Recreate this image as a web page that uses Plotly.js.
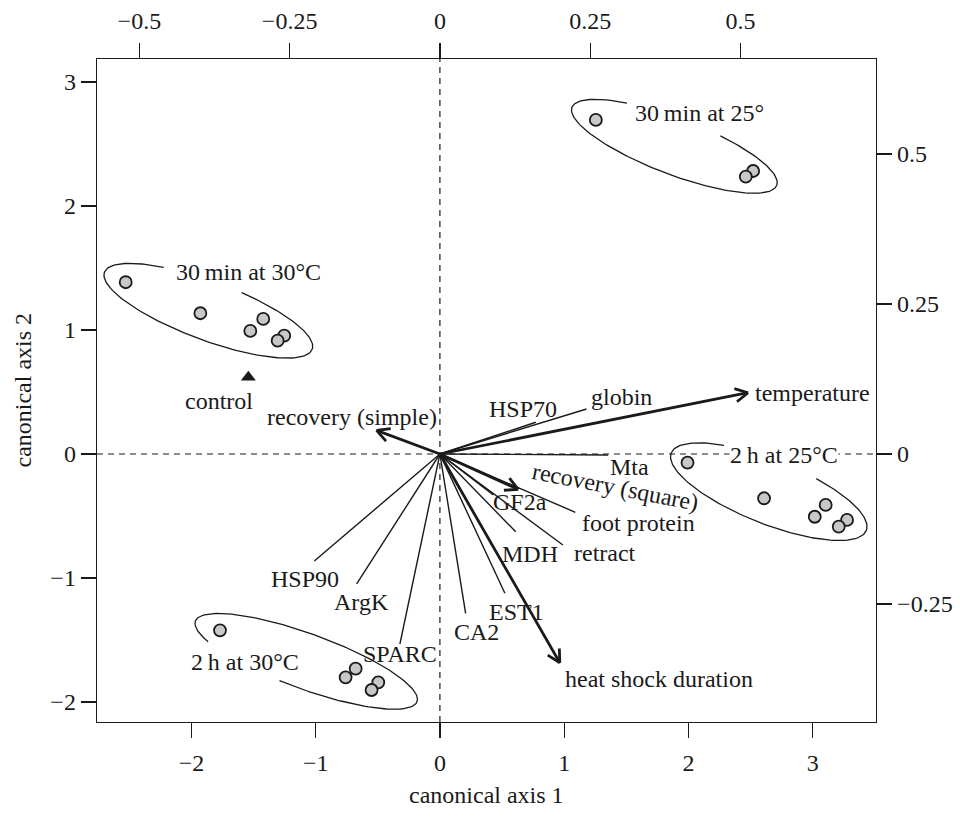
<!DOCTYPE html>
<html>
<head>
<meta charset="utf-8">
<script src="https://cdn.plot.ly/plotly-3.0.1.min.js"></script>
<style>html,body{margin:0;padding:0;background:#fff;}#chart{width:960px;height:827px;}</style>
</head>
<body>
<div id="chart"></div>
<script>
// ---- group scores (canonical axis 1, canonical axis 2) ----
const g30min30C_x = [-2.529, -1.928, -1.422, -1.526, -1.253, -1.306];
const g30min30C_y = [1.385, 1.135, 1.089, 0.992, 0.954, 0.914];
const g30min25_x = [1.255, 2.521, 2.462];
const g30min25_y = [2.694, 2.282, 2.236];
const g2h25C_x = [1.993, 2.609, 3.105, 3.017, 3.277, 3.210];
const g2h25C_y = [-0.070, -0.357, -0.411, -0.506, -0.532, -0.586];
const g2h30C_x = [-1.770, -0.678, -0.759, -0.496, -0.550];
const g2h30C_y = [-1.422, -1.731, -1.801, -1.841, -1.903];
const control_x = [-1.542];
const control_y = [0.618];

// ---- explanatory variables drawn as arrows ----
const arrowNames = ["temperature", "recovery (simple)", "recovery (square)", "heat shock duration"];
const arrowX = [2.480, -0.510, 0.630, 0.965];
const arrowY = [0.494, 0.190, -0.285, -1.683];

// ---- response variables drawn as plain lines ----
const lineNames = ["HSP70", "globin", "Mta", "GF2a", "foot protein", "retract", "MDH", "EST1", "CA2", "SPARC", "ArgK", "HSP90"];
const lineX = [0.772, 1.180, 1.354, 0.430, 1.090, 0.990, 0.610, 0.523, 0.207, -0.322, -0.670, -1.011];
const lineY = [0.256, 0.363, -0.008, -0.330, -0.470, -0.734, -0.627, -1.123, -1.285, -1.532, -1.048, -0.863];

// ---- axis ticks ----
const bottomTicks = [-2, -1, 0, 1, 2, 3];
const leftTicks = [-2, -1, 0, 1, 2, 3];
const topTicks = [-0.5, -0.25, 0, 0.25, 0.5];
const rightTicks = [-0.25, 0, 0.25, 0.5];

// ---- text labels ----
const labelText = ["30\u2009min at 30\u00b0C", "control", "recovery (simple)", "30\u2009min at 25\u00b0", "temperature",
  "HSP70", "globin", "2\u2009h at 25\u00b0C", "Mta", "recovery (square)", "GF2a", "foot protein", "retract", "MDH",
  "EST1", "CA2", "heat shock duration", "HSP90", "ArgK", "SPARC", "2\u2009h at 30\u00b0C"];
const labelX = [-1.537, -1.778, -0.708, 2.092, 3.001, 0.668, 1.464, 2.767, 1.529, 1.416, 0.644, 1.601, 1.327, 0.724,
  0.619, 0.298, 1.762, -1.086, -0.628, -0.322, -1.569];
const labelY = [1.468, 0.427, 0.298, 2.750, 0.492, 0.363, 0.460, -0.008, -0.105, -0.266, -0.387, -0.556, -0.798, -0.806,
  -1.274, -1.435, -1.815, -1.008, -1.194, -1.613, -1.677];
const labelAngle = [0,0,0,0,0,0,0,0,0,11,0,0,0,0,0,0,0,0,0,0,0];
const labelBg = [0,0,0,0,0,0,0,1,0,0,0,0,0,0,0,0,0,0,0,0,0];

// ---- group ellipses: centre, semi-axes, rotation (deg), open gap (deg of parameter) ----
const ellCx = [-1.864, 1.887, 2.647, -1.076];
const ellCy = [1.155, 2.481, -0.304, -1.672];
const ellA = [0.892, 0.882, 0.845, 0.949];
const ellB = [0.237, 0.226, 0.258, 0.223];
const ellRot = [-20.4, -20.9, -21.7, -20.0];
const ellGapStart = [77, 70, 69, 214];
const ellGapEnd = [121, 123, 124, 261];

const xRange = [-2.76, 3.51];
const yRange = [-2.161, 3.185];
const secScale = 0.2067;

const FONT = "Liberation Serif, Times New Roman, serif";
const INK = "#1a1a1a";
const FS = 24;

const traces = [];

// ellipses
for (let i = 0; i < ellCx.length; i++) {
  const ex = [], ey = [];
  const r = ellRot[i] * Math.PI / 180;
  for (let t = ellGapEnd[i]; t <= ellGapStart[i] + 360; t += 2) {
    const tt = t * Math.PI / 180;
    const px = ellA[i] * Math.cos(tt), py = ellB[i] * Math.sin(tt);
    ex.push(ellCx[i] + px * Math.cos(r) - py * Math.sin(r));
    ey.push(ellCy[i] + px * Math.sin(r) + py * Math.cos(r));
  }
  traces.push({x: ex, y: ey, mode: "lines", line: {color: INK, width: 1.3}, hoverinfo: "skip", showlegend: false});
}

// thin lines
const lx = [], ly = [];
for (let i = 0; i < lineX.length; i++) { lx.push(0, lineX[i], null); ly.push(0, lineY[i], null); }
traces.push({x: lx, y: ly, mode: "lines", line: {color: INK, width: 1.4}, hoverinfo: "skip", showlegend: false});

// thick arrows with open heads
const ax = [], ay = [];
const headLen = 0.115, headAng = 28 * Math.PI / 180;
for (let i = 0; i < arrowX.length; i++) {
  const tx = arrowX[i], ty = arrowY[i];
  const len = Math.hypot(tx, ty), dx = tx / len, dy = ty / len;
  ax.push(0, tx, null); ay.push(0, ty, null);
  for (const s of [1, -1]) {
    const c = Math.cos(s * headAng), sn = Math.sin(s * headAng);
    const rx = dx * c - dy * sn, ry = dx * sn + dy * c;
    ax.push(tx - headLen * rx, tx, null); ay.push(ty - headLen * ry, ty, null);
  }
}
traces.push({x: ax, y: ay, mode: "lines", line: {color: INK, width: 2.8}, hoverinfo: "skip", showlegend: false});

// points
const mk = {size: 12, color: "#c8c8c8", line: {color: INK, width: 1.8}};
[[g30min30C_x, g30min30C_y], [g30min25_x, g30min25_y], [g2h25C_x, g2h25C_y], [g2h30C_x, g2h30C_y]].forEach(g => {
  traces.push({x: g[0], y: g[1], mode: "markers", marker: mk, hoverinfo: "skip", showlegend: false});
});
traces.push({x: control_x, y: control_y, mode: "markers", marker: {symbol: "triangle-up", size: 13, color: INK}, hoverinfo: "skip", showlegend: false});

// invisible trace to activate secondary axes
traces.push({x: [xRange[0] * secScale], y: [yRange[0] * secScale], xaxis: "x2", yaxis: "y2", mode: "markers", marker: {opacity: 0}, hoverinfo: "skip", showlegend: false});

const annotations = labelText.map((t, i) => ({
  x: labelX[i], y: labelY[i], xref: "x", yref: "y", text: t, showarrow: false,
  textangle: labelAngle[i], font: {family: FONT, size: FS, color: INK},
  bgcolor: labelBg[i] ? "#ffffff" : "rgba(0,0,0,0)", borderpad: 0
}));
annotations.push({x: 0.5, y: 0, xref: "paper", yref: "paper", yanchor: "middle", yshift: -73, text: "canonical axis 1", showarrow: false, font: {family: FONT, size: FS, color: INK}});
annotations.push({x: 0, y: 0.5, xref: "paper", yref: "paper", xanchor: "center", xshift: -75, text: "canonical axis 2", textangle: -90, showarrow: false, font: {family: FONT, size: FS, color: INK}});

const axCommon = {
  showgrid: false, zeroline: false, showline: true, linecolor: INK, linewidth: 1.3,
  ticks: "outside", ticklen: 15, tickwidth: 1.3, tickcolor: INK,
  tickfont: {family: FONT, size: FS, color: INK}, fixedrange: true
};

const layout = {
  width: 960, height: 827,
  margin: {l: 97, r: 84, t: 59, b: 105},
  paper_bgcolor: "#ffffff", plot_bgcolor: "#ffffff",
  showlegend: false,
  xaxis: Object.assign({}, axCommon, {range: xRange, tickmode: "array", tickvals: bottomTicks, mirror: true, ticklabelstandoff: 4}),
  yaxis: Object.assign({}, axCommon, {range: yRange, tickmode: "array", tickvals: leftTicks, mirror: true}),
  xaxis2: Object.assign({}, axCommon, {range: [xRange[0] * secScale, xRange[1] * secScale], overlaying: "x", side: "top", anchor: "y", tickmode: "array", tickvals: topTicks, ticklabelstandoff: 4}),
  yaxis2: Object.assign({}, axCommon, {range: [yRange[0] * secScale, yRange[1] * secScale], overlaying: "y", side: "right", anchor: "x", tickmode: "array", tickvals: rightTicks}),
  shapes: [
    {type: "line", xref: "x", yref: "paper", x0: 0, x1: 0, y0: 0, y1: 1, layer: "below", line: {color: INK, width: 1.2, dash: "6px,5px"}},
    {type: "line", xref: "paper", yref: "y", x0: 0, x1: 1, y0: 0, y1: 0, layer: "below", line: {color: INK, width: 1.2, dash: "6px,5px"}}
  ],
  annotations: annotations
};

Plotly.newPlot("chart", traces, layout, {staticPlot: true, displayModeBar: false});
</script>
</body>
</html>
